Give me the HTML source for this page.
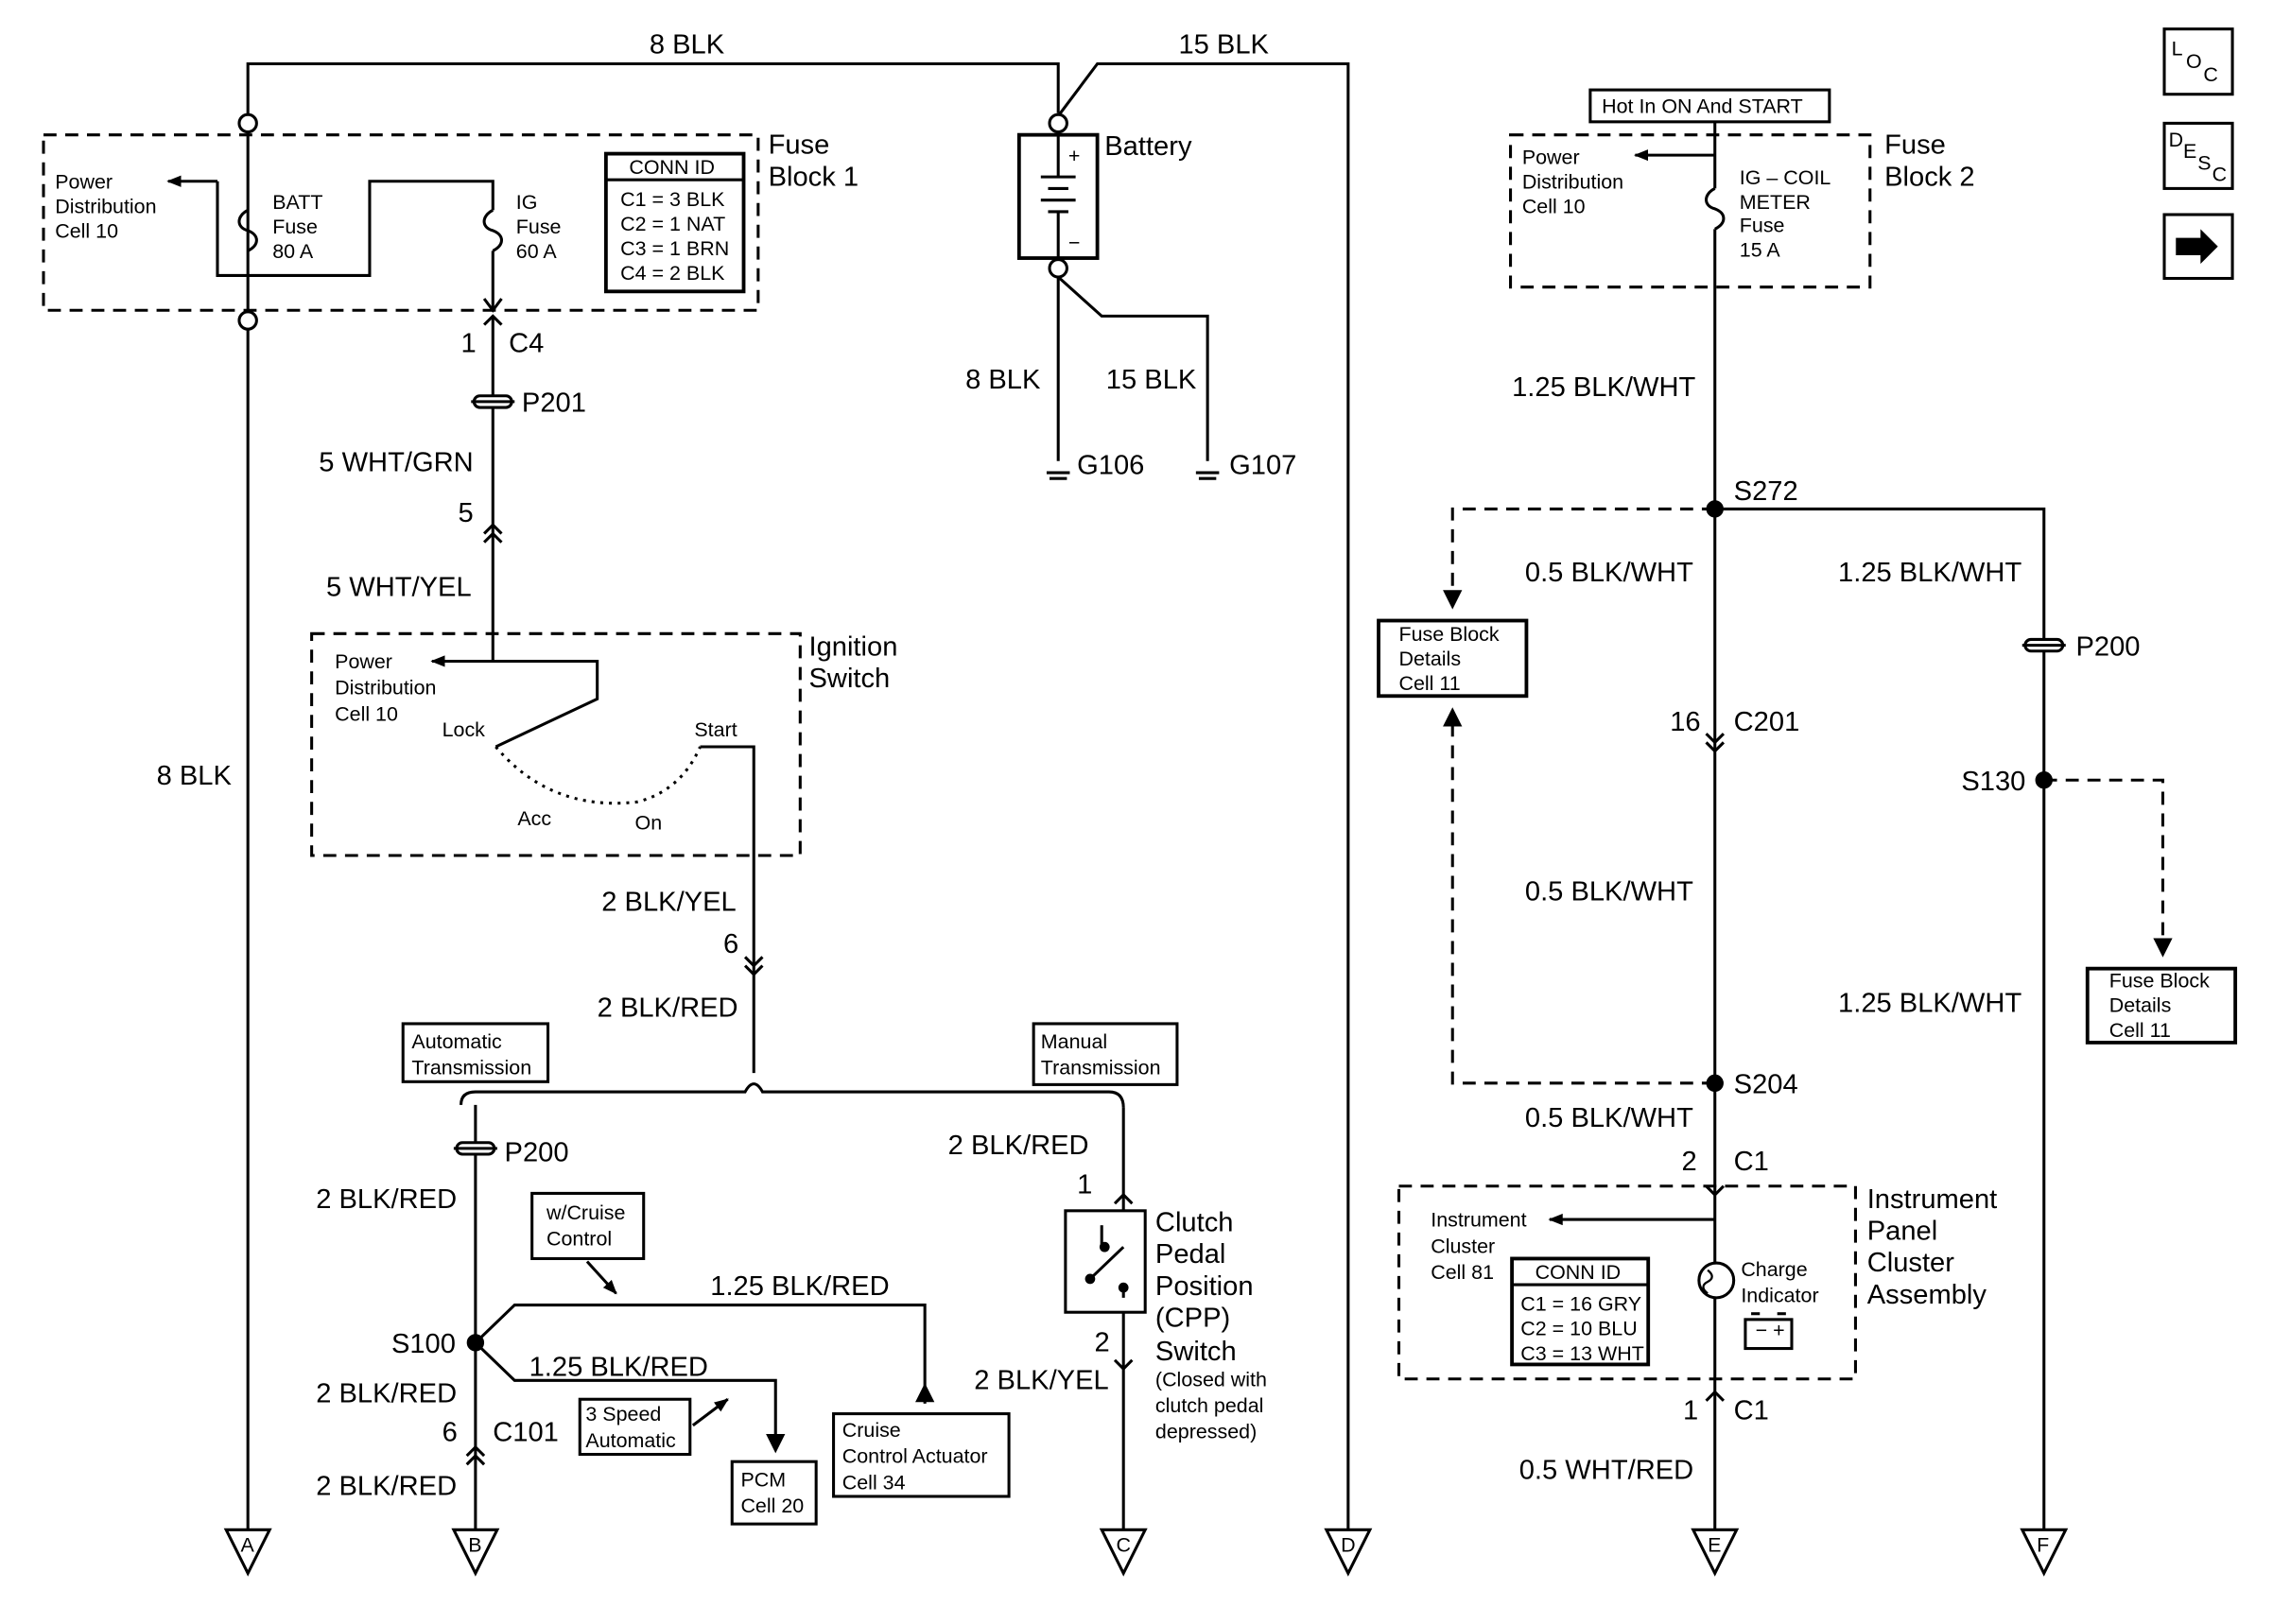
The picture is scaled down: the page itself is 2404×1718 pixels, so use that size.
<!DOCTYPE html>
<html><head><meta charset="utf-8"><style>
html,body{margin:0;padding:0;background:#fff}
svg{display:block}
text{font-family:"Liberation Sans",Arial,sans-serif;fill:#000}
.l{font-size:19px}
.s{font-size:13.5px}
.m{font-size:14px}
</style></head><body>
<svg width="2404" height="1718" viewBox="0 0 1568 1120" preserveAspectRatio="none" xmlns="http://www.w3.org/2000/svg">
<defs>
<marker id="ah" markerWidth="10" markerHeight="10" refX="9" refY="5" orient="auto" markerUnits="userSpaceOnUse"><path d="M0,1 L10,5 L0,9 z" fill="#000"/></marker>
</defs>
<g fill="none" stroke="#000" stroke-width="2">
<!-- top wires -->
<polyline points="171,1055 171,44 730,44 730,78"/>
<polyline points="730,80 757,44 930,44 930,1055"/>
<circle cx="171" cy="85" r="6" fill="#fff"/>
<circle cx="171" cy="221" r="6" fill="#fff"/>
<!-- fuse block 1 -->
<rect x="30" y="93" width="493" height="121" stroke-dasharray="9,6"/>
<line x1="150" y1="125" x2="116" y2="125" marker-end="url(#ah)"/>
<polyline points="150,125 150,190 255,190 255,125 340,125 340,145"/>
<path d="M171,145 c-8,4 -8,12 0,14 c8,3 8,10 0,14"/>
<path d="M340,145 c-8,4 -8,12 0,14 c8,3 8,10 0,14"/>
<line x1="340" y1="173" x2="340" y2="214"/>
<path d="M334,206 L340,214 L346,206"/>
<rect x="418" y="106" width="95" height="95" stroke-width="2.5"/>
<line x1="418" y1="124" x2="513" y2="124"/>
<!-- C4 down -->
<line x1="340" y1="218" x2="340" y2="457"/>
<path d="M334,224 L340,218 L346,224"/>
<rect x="327" y="273" width="26" height="8" rx="4" fill="#fff"/>
<line x1="325" y1="277" x2="355" y2="277"/>
<path d="M334,368 L340,362 L346,368 M334,374 L340,368 L346,374"/>
<!-- ignition switch -->
<rect x="215" y="437" width="337" height="153" stroke-dasharray="9,6"/>
<line x1="340" y1="456" x2="298" y2="456" marker-end="url(#ah)"/>
<polyline points="340,456 412,456 412,482 342,515"/>
<path d="M342,515 Q380,560 440,553 Q470,545 483,515" stroke-dasharray="2,4"/>
<polyline points="483,515 520,515 520,740"/>
<path d="M514,660 L520,666 L526,660 M514,666 L520,672 L526,666"/>
<!-- transmission bus -->
<path d="M318,762 Q318,753 328,753 L514,753 Q520,742 526,753 L765,753 Q775,753 775,764"/>
<rect x="278" y="706" width="100" height="40"/>
<rect x="713" y="706" width="99" height="42"/>
<!-- left branch -->
<line x1="328" y1="762" x2="328" y2="1055"/>
<rect x="315" y="788" width="26" height="8" rx="4" fill="#fff"/>
<line x1="313" y1="792" x2="343" y2="792"/>
<circle cx="328" cy="926" r="5" fill="#000"/>
<polyline points="328,926 355,900 638,900 638,968"/>
<path d="M633,966 L638,956 L643,966 z" fill="#000"/>
<polyline points="328,926 355,952 535,952 535,1000"/>
<path d="M530,990 L535,1000 L540,990 z" fill="#000"/>
<rect x="505" y="1008" width="58" height="43"/>
<rect x="400" y="965" width="76" height="38"/>
<line x1="478" y1="983" x2="502" y2="965" marker-end="url(#ah)"/>
<rect x="367" y="823" width="77" height="45"/>
<line x1="405" y1="870" x2="425" y2="892" marker-end="url(#ah)"/>
<rect x="575" y="975" width="121" height="57"/>
<path d="M322,1004 L328,998 L334,1004 M322,1010 L328,1004 L334,1010"/>
<!-- right branch -->
<line x1="775" y1="764" x2="775" y2="835"/>
<path d="M769,830 L775,824 L781,830"/>
<rect x="735" y="835" width="55" height="70"/>
<line x1="760" y1="845" x2="760" y2="860"/><line x1="775" y1="860" x2="752" y2="882"/>
<line x1="775" y1="888" x2="775" y2="895"/>
<circle cx="762" cy="860" r="2.5" fill="#000"/><circle cx="752" cy="882" r="2.5" fill="#000"/><circle cx="775" cy="888" r="2.5" fill="#000"/>
<line x1="775" y1="905" x2="775" y2="1055"/>
<path d="M769,938 L775,944 L781,938"/>
<!-- battery -->
<circle cx="730" cy="85" r="6" fill="#fff"/>
<rect x="703" y="93" width="54" height="85" stroke-width="2.5"/>
<line x1="730" y1="91" x2="730" y2="122"/>
<line x1="718" y1="122" x2="742" y2="122"/><line x1="723" y1="130" x2="737" y2="130"/>
<line x1="718" y1="138" x2="742" y2="138"/><line x1="723" y1="146" x2="737" y2="146"/>
<line x1="730" y1="146" x2="730" y2="178"/>
<circle cx="730" cy="185" r="6" fill="#fff"/>
<line x1="730" y1="191" x2="730" y2="318"/>
<polyline points="730,191 760,218 833,218 833,318"/>
<line x1="722" y1="326" x2="738" y2="326"/><line x1="724" y1="330" x2="736" y2="330"/>
<line x1="825" y1="326" x2="841" y2="326"/><line x1="827" y1="330" x2="839" y2="330"/>
<!-- fuse block 2 -->
<rect x="1097" y="62" width="165" height="22"/>
<rect x="1042" y="93" width="248" height="105" stroke-dasharray="9,6"/>
<line x1="1183" y1="84" x2="1183" y2="130"/>
<line x1="1183" y1="107" x2="1128" y2="107" marker-end="url(#ah)"/>
<path d="M1183,130 c-8,4 -8,12 0,14 c8,3 8,10 0,14"/>
<line x1="1183" y1="158" x2="1183" y2="1055"/>
<circle cx="1183" cy="351" r="5" fill="#000"/>
<polyline points="1183,351 1002,351 1002,418" stroke-dasharray="9,6"/>
<path d="M997,408 L1002,418 L1007,408 z" fill="#000"/>
<rect x="951" y="428" width="102" height="52" stroke-width="2.5"/>
<polyline points="1183,351 1410,351 1410,1055"/>
<rect x="1397" y="441" width="26" height="8" rx="4" fill="#fff"/>
<line x1="1395" y1="445" x2="1425" y2="445"/>
<circle cx="1410" cy="538" r="5" fill="#000"/>
<polyline points="1410,538 1492,538 1492,658" stroke-dasharray="9,6"/>
<path d="M1487,648 L1492,658 L1497,648 z" fill="#000"/>
<rect x="1440" y="668" width="102" height="51" stroke-width="2.5"/>
<path d="M1177,506 L1183,512 L1189,506 M1177,512 L1183,518 L1189,512"/>
<circle cx="1183" cy="747" r="5" fill="#000"/>
<polyline points="1183,747 1002,747 1002,490" stroke-dasharray="9,6"/>
<path d="M997,500 L1002,490 L1007,500 z" fill="#000"/>
<path d="M1177,818 L1183,824 L1189,818"/>
<rect x="965" y="818" width="315" height="133" stroke-dasharray="9,6"/>
<line x1="1183" y1="841" x2="1069" y2="841" marker-end="url(#ah)"/>
<rect x="1043" y="868" width="94" height="73" stroke-width="2.5"/>
<line x1="1043" y1="886" x2="1137" y2="886"/>
<circle cx="1184" cy="883" r="12" fill="#fff"/>
<rect x="1204" y="910" width="32" height="20"/>
<line x1="1208" y1="906" x2="1214" y2="906"/><line x1="1226" y1="906" x2="1232" y2="906"/>
<path d="M1177,966 L1183,960 L1189,966"/>
<!-- icons -->
<rect x="1493" y="20" width="47" height="45"/>
<rect x="1493" y="85" width="47" height="45"/>
<rect x="1493" y="148" width="47" height="44"/>
<!-- terminals -->
<path d="M156,1055 L186,1055 L171,1085 z"/>
<path d="M313,1055 L343,1055 L328,1085 z"/>
<path d="M760,1055 L790,1055 L775,1085 z"/>
<path d="M915,1055 L945,1055 L930,1085 z"/>
<path d="M1168,1055 L1198,1055 L1183,1085 z"/>
<path d="M1395,1055 L1425,1055 L1410,1085 z"/>
</g>
<path d="M1501,164 L1518,164 L1518,158 L1530,170 L1518,182 L1518,176 L1501,176 z" fill="#000"/>
<path d="M1178,876 c4,3 4,6 0,8 c-4,2 -4,5 0,8" stroke="#000" fill="none" stroke-width="1.5"/>
<text class="m" x="1211" y="922" font-size="11">−  +</text>
<!-- text -->
<text class="l" x="448" y="37">8 BLK</text>
<text class="l" x="813" y="37">15 BLK</text>
<text class="m" x="38" y="130">Power</text><text class="m" x="38" y="147">Distribution</text><text class="m" x="38" y="164">Cell 10</text>
<text class="m" x="188" y="144">BATT</text><text class="m" x="188" y="161">Fuse</text><text class="m" x="188" y="178">80 A</text>
<text class="m" x="356" y="144">IG</text><text class="m" x="356" y="161">Fuse</text><text class="m" x="356" y="178">60 A</text>
<text class="m" x="434" y="120">CONN ID</text>
<text class="m" x="428" y="142">C1 = 3 BLK</text><text class="m" x="428" y="159">C2 = 1 NAT</text><text class="m" x="428" y="176">C3 = 1 BRN</text><text class="m" x="428" y="193">C4 = 2 BLK</text>
<text class="l" x="530" y="106">Fuse</text><text class="l" x="530" y="128">Block 1</text>
<text class="l" x="318" y="243">1</text><text class="l" x="351" y="243">C4</text>
<text class="l" x="360" y="284">P201</text>
<text class="l" x="220" y="325">5 WHT/GRN</text>
<text class="l" x="316" y="360">5</text>
<text class="l" x="225" y="411">5 WHT/YEL</text>
<text class="l" x="108" y="541">8 BLK</text>
<text class="m" x="231" y="461">Power</text><text class="m" x="231" y="479">Distribution</text><text class="m" x="231" y="497">Cell 10</text>
<text class="m" x="305" y="508">Lock</text><text class="m" x="479" y="508">Start</text>
<text class="m" x="357" y="569">Acc</text><text class="m" x="438" y="572">On</text>
<text class="l" x="558" y="452">Ignition</text><text class="l" x="558" y="474">Switch</text>
<text class="l" x="415" y="628">2 BLK/YEL</text>
<text class="l" x="499" y="657">6</text>
<text class="l" x="412" y="701">2 BLK/RED</text>
<text class="m" x="284" y="723">Automatic</text><text class="m" x="284" y="741">Transmission</text>
<text class="m" x="718" y="723">Manual</text><text class="m" x="718" y="741">Transmission</text>
<text class="l" x="348" y="801">P200</text>
<text class="l" x="218" y="833">2 BLK/RED</text>
<text class="m" x="377" y="841">w/Cruise</text><text class="m" x="377" y="859">Control</text>
<text class="l" x="490" y="893">1.25 BLK/RED</text>
<text class="l" x="270" y="933">S100</text>
<text class="l" x="365" y="949">1.25 BLK/RED</text>
<text class="l" x="218" y="967">2 BLK/RED</text>
<text class="m" x="404" y="980">3 Speed</text><text class="m" x="404" y="998">Automatic</text>
<text class="m" x="581" y="991">Cruise</text><text class="m" x="581" y="1009">Control  Actuator</text><text class="m" x="581" y="1027">Cell 34</text>
<text class="l" x="305" y="994">6</text><text class="l" x="340" y="994">C101</text>
<text class="m" x="511" y="1025">PCM</text><text class="m" x="511" y="1043">Cell 20</text>
<text class="l" x="218" y="1031">2 BLK/RED</text>
<text class="l" x="654" y="796">2 BLK/RED</text>
<text class="l" x="743" y="823">1</text>
<text class="l" x="755" y="932">2</text>
<text class="l" x="672" y="958">2 BLK/YEL</text>
<text class="l" x="797" y="849">Clutch</text><text class="l" x="797" y="871">Pedal</text><text class="l" x="797" y="893">Position</text><text class="l" x="797" y="915">(CPP)</text><text class="l" x="797" y="938">Switch</text>
<text class="m" x="797" y="956">(Closed with</text><text class="m" x="797" y="974">clutch pedal</text><text class="m" x="797" y="992">depressed)</text>
<text class="l" x="762" y="107">Battery</text>
<text class="m" x="737" y="112" font-size="16">+</text><text class="m" x="737" y="172" font-size="16">−</text>
<text class="l" x="666" y="268">8 BLK</text><text class="l" x="763" y="268">15 BLK</text>
<text class="l" x="743" y="327">G106</text><text class="l" x="848" y="327">G107</text>
<text class="m" x="1105" y="78">Hot In ON And START</text>
<text class="m" x="1050" y="113">Power</text><text class="m" x="1050" y="130">Distribution</text><text class="m" x="1050" y="147">Cell 10</text>
<text class="m" x="1200" y="127">IG – COIL</text><text class="m" x="1200" y="144">METER</text><text class="m" x="1200" y="160">Fuse</text><text class="m" x="1200" y="177">15 A</text>
<text class="l" x="1300" y="106">Fuse</text><text class="l" x="1300" y="128">Block 2</text>
<text class="l" x="1043" y="273">1.25 BLK/WHT</text>
<text class="l" x="1196" y="345">S272</text>
<text class="l" x="1052" y="401">0.5 BLK/WHT</text>
<text class="l" x="1268" y="401">1.25 BLK/WHT</text>
<text class="m" x="965" y="442">Fuse Block</text><text class="m" x="965" y="459">Details</text><text class="m" x="965" y="476">Cell 11</text>
<text class="l" x="1432" y="452">P200</text>
<text class="l" x="1152" y="504">16</text><text class="l" x="1196" y="504">C201</text>
<text class="l" x="1353" y="545">S130</text>
<text class="l" x="1052" y="621">0.5 BLK/WHT</text>
<text class="m" x="1455" y="681">Fuse Block</text><text class="m" x="1455" y="698">Details</text><text class="m" x="1455" y="715">Cell 11</text>
<text class="l" x="1268" y="698">1.25 BLK/WHT</text>
<text class="l" x="1196" y="754">S204</text>
<text class="l" x="1052" y="777">0.5 BLK/WHT</text>
<text class="l" x="1160" y="807">2</text><text class="l" x="1196" y="807">C1</text>
<text class="l" x="1288" y="833">Instrument</text><text class="l" x="1288" y="855">Panel</text><text class="l" x="1288" y="877">Cluster</text><text class="l" x="1288" y="899">Assembly</text>
<text class="m" x="987" y="846">Instrument</text><text class="m" x="987" y="864">Cluster</text><text class="m" x="987" y="882">Cell 81</text>
<text class="m" x="1059" y="882">CONN ID</text>
<text class="m" x="1049" y="904">C1 = 16 GRY</text><text class="m" x="1049" y="921">C2 = 10 BLU</text><text class="m" x="1049" y="938">C3 = 13 WHT</text>
<text class="m" x="1201" y="880">Charge</text><text class="m" x="1201" y="898">Indicator</text>
<text class="l" x="1161" y="979">1</text><text class="l" x="1196" y="979">C1</text>
<text class="l" x="1048" y="1020">0.5 WHT/RED</text>
<text class="m" x="166" y="1070" font-size="12">A</text><text class="m" x="323" y="1070" font-size="12">B</text><text class="m" x="770" y="1070" font-size="12">C</text>
<text class="m" x="925" y="1070" font-size="12">D</text><text class="m" x="1178" y="1070" font-size="12">E</text><text class="m" x="1405" y="1070" font-size="12">F</text>
<text class="m" x="1498" y="38">L</text><text class="m" x="1508" y="47">O</text><text class="m" x="1520" y="56">C</text>
<text class="m" x="1496" y="101">D</text><text class="m" x="1506" y="109">E</text><text class="m" x="1516" y="117">S</text><text class="m" x="1526" y="125">C</text>
</svg>
</body></html>
